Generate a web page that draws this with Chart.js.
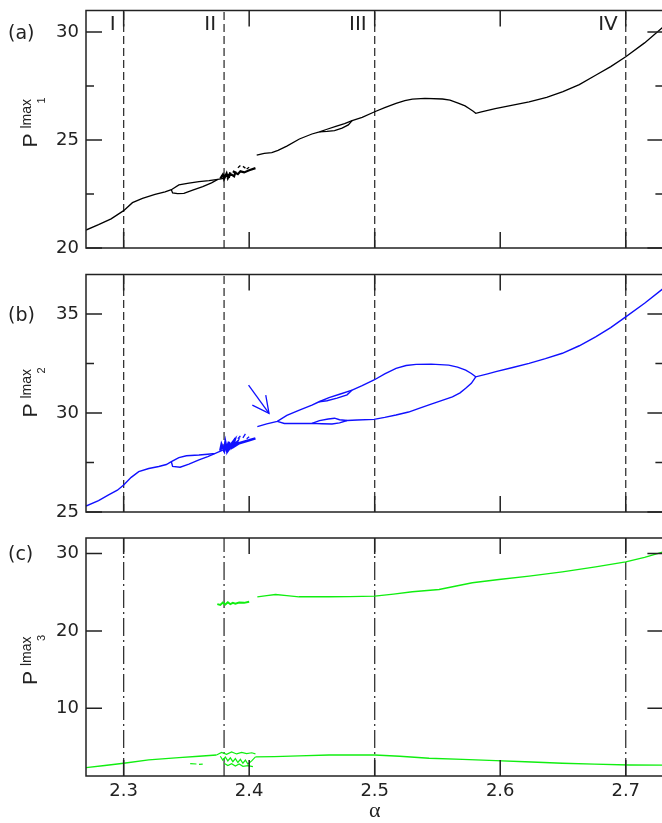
<!DOCTYPE html>
<html>

<head>
  <title>Bifurcation diagrams P lmax</title>
  <script src="https://cdn.jsdelivr.net/npm/chart.js@4.4.0/dist/chart.umd.min.js"></script>
  <style>
    html, body { margin: 0; padding: 0; background: #fff; overflow: hidden; }
    #wrap { position: relative; width: 662px; height: 823px; overflow: hidden; }
    canvas { position: absolute; left: 0; }
  </style>
</head>

<body>
  <div id="wrap">
    <canvas id="panelA" width="665" height="262" style="top:0px"></canvas>
    <canvas id="panelB" width="665" height="262" style="top:262px"></canvas>
    <canvas id="panelC" width="665" height="299" style="top:524px"></canvas>
  </div>

  <script>
    // shared alpha axis
    const alphaMin = 2.27;
    const alphaMax = 2.73;
    const xTicks = [2.3, 2.4, 2.5, 2.6, 2.7];
    const regimeAlpha = [2.3, 2.38, 2.5, 2.7];
    const regimeLabels = ['I', 'II', 'III', 'IV'];

    // y ticks per panel
    const yTicksA = [20, 25, 30], yMinorA = [22.5, 27.5];
    const yTicksB = [25, 30, 35], yMinorB = [27.5, 32.5];
    const yTicksC = [10, 20, 30], yMinorC = [];

    // (a) P1 lmax, [alpha, P]; null breaks the line
    const p1Low = [[2.270, 20.83], [2.280, 21.08], [2.290, 21.35], [2.300, 21.73], [2.307, 22.10], [2.315, 22.30],
      [2.325, 22.48], [2.333, 22.60], [2.338, 22.70], [2.344, 22.92], [2.352, 23.00], [2.360, 23.07],
      [2.368, 23.12], [2.375, 23.18], [2.380, 23.22]];
    const p1Loop = [[2.338, 22.70], [2.339, 22.55], [2.343, 22.52], [2.348, 22.53], [2.355, 22.68], [2.363, 22.84],
      [2.370, 23.02], [2.375, 23.18]];
    const p1Chaos = [[2.377, 23.22], [2.379, 23.40], [2.380, 23.20], [2.382, 23.45], [2.383, 23.24], [2.385, 23.50],
      [2.384, 23.30], [2.381, 23.36], [2.386, 23.40], [2.388, 23.32], [2.389, 23.50], [2.387, 23.55],
      [2.391, 23.42], [2.393, 23.55], [2.396, 23.50], [2.400, 23.60], [2.405, 23.70]];
    const p1Specks = [[2.391, 23.72], [2.393, 23.82], null, [2.395, 23.78], [2.397, 23.70], null,
      [2.398, 23.66], [2.400, 23.74]];
    const p1High = [[2.406, 24.30], [2.412, 24.38], [2.418, 24.42], [2.423, 24.52], [2.430, 24.72], [2.440, 25.05],
      [2.450, 25.28], [2.456, 25.38], [2.462, 25.50], [2.469, 25.63], [2.476, 25.76], [2.482, 25.90],
      [2.490, 26.05], [2.500, 26.31], [2.508, 26.50], [2.517, 26.70], [2.524, 26.83], [2.530, 26.90],
      [2.540, 26.93], [2.554, 26.90], [2.560, 26.85], [2.567, 26.70], [2.572, 26.58], [2.5755, 26.45],
      [2.5785, 26.33], [2.5805, 26.24], [2.585, 26.30], [2.596, 26.45], [2.610, 26.62], [2.623, 26.77],
      [2.637, 26.98], [2.650, 27.24], [2.663, 27.57], [2.676, 28.00], [2.688, 28.40], [2.700, 28.86],
      [2.715, 29.50], [2.730, 30.25]];
    const p1Loop2 = [[2.456, 25.38], [2.462, 25.40], [2.468, 25.44], [2.474, 25.55], [2.479, 25.70], [2.482, 25.90]];

    // (b) P2 lmax
    const p2Low = [[2.270, 25.30], [2.280, 25.58], [2.288, 25.86], [2.295, 26.10], [2.300, 26.36], [2.306, 26.75],
      [2.312, 27.04], [2.320, 27.20], [2.328, 27.30], [2.334, 27.40], [2.338, 27.54], [2.344, 27.75],
      [2.350, 27.84], [2.360, 27.88], [2.367, 27.92], [2.373, 27.96], [2.379, 28.13]];
    const p2Loop = [[2.338, 27.54], [2.339, 27.30], [2.345, 27.26], [2.352, 27.42], [2.360, 27.63], [2.367, 27.80],
      [2.373, 27.96]];
    const p2Chaos = [[2.377, 28.10], [2.378, 28.40], [2.380, 28.12], [2.381, 28.50], [2.382, 28.18], [2.384, 28.55],
      [2.383, 28.20], [2.386, 28.45], [2.385, 28.28], [2.388, 28.55], [2.387, 28.32], [2.390, 28.50],
      [2.389, 28.36], [2.392, 28.48], [2.396, 28.55], [2.400, 28.62], [2.405, 28.72]];
    const p2Specks = [[2.391, 28.70], [2.393, 28.85], null, [2.395, 28.75], [2.397, 28.95], null,
      [2.398, 28.70], [2.400, 28.80]];
    const p2Upper = [[2.4065, 29.31], [2.414, 29.45], [2.4224, 29.58], [2.430, 29.88], [2.440, 30.15], [2.450, 30.40],
      [2.4557, 30.57], [2.4636, 30.78], [2.472, 30.95], [2.482, 31.16], [2.490, 31.38], [2.4995, 31.67],
      [2.508, 31.98], [2.517, 32.26], [2.525, 32.40], [2.533, 32.46], [2.545, 32.47], [2.559, 32.42],
      [2.566, 32.32], [2.5725, 32.17], [2.577, 32.00], [2.5805, 31.83], [2.590, 31.98], [2.5965, 32.09],
      [2.610, 32.30], [2.623, 32.51], [2.636, 32.75], [2.6495, 33.02], [2.663, 33.40], [2.676, 33.85],
      [2.688, 34.32], [2.700, 34.86], [2.715, 35.55], [2.730, 36.30]];
    const p2UpperLoop = [[2.4557, 30.57], [2.462, 30.62], [2.470, 30.75], [2.478, 30.92], [2.482, 31.16]];
    const p2Lower = [[2.4224, 29.58], [2.428, 29.47], [2.440, 29.47], [2.450, 29.48], [2.458, 29.46], [2.466, 29.45],
      [2.472, 29.50], [2.478, 29.62], [2.486, 29.65], [2.4995, 29.68], [2.508, 29.78], [2.517, 29.90],
      [2.527, 30.05], [2.5353, 30.24], [2.545, 30.45], [2.5619, 30.82], [2.568, 31.02], [2.5725, 31.25],
      [2.577, 31.50], [2.5805, 31.83]];
    const p2LowerLoop = [[2.450, 29.48], [2.456, 29.62], [2.463, 29.70], [2.468, 29.74], [2.472, 29.66], [2.478, 29.62]];
    const arrowShaft = [[2.3995, 31.41], [2.4158, 29.98]];
    const arrowHead = [[2.4132, 30.91], [2.4158, 29.98], [2.4025, 30.40]];

    // (c) P3 lmax
    const p3UpperA = [[2.3746, 23.46], [2.377, 23.35], [2.379, 23.65], [2.381, 23.40], [2.383, 23.70], [2.385, 23.45],
      [2.387, 23.62], [2.389, 23.52], [2.392, 23.66], [2.396, 23.62], [2.400, 23.76]];
    const p3UpperB = [[2.4065, 24.40], [2.414, 24.55], [2.421, 24.70], [2.430, 24.55], [2.4397, 24.40], [2.450, 24.40],
      [2.4636, 24.40], [2.480, 24.42], [2.500, 24.49], [2.515, 24.75], [2.530, 25.05], [2.5513, 25.35],
      [2.565, 25.80], [2.5778, 26.21], [2.599, 26.64], [2.623, 27.07], [2.6495, 27.63], [2.676, 28.27],
      [2.700, 28.92], [2.715, 29.50], [2.730, 30.20]];
    const p3LowerA = [[2.270, 2.33], [2.285, 2.60], [2.300, 2.90], [2.320, 3.33], [2.344, 3.63], [2.360, 3.80],
      [2.374, 3.97]];
    const p3Chaos = [[2.374, 3.97], [2.378, 4.30], [2.382, 4.05], [2.386, 4.35], [2.390, 4.10], [2.394, 4.30],
      [2.398, 4.15], [2.402, 4.25], [2.405, 4.10], null,
      [2.377, 3.80], [2.379, 3.30], [2.381, 3.70], [2.383, 3.20], [2.385, 3.60], [2.387, 3.10], [2.389, 3.50],
      [2.391, 3.00], [2.393, 3.40], [2.395, 2.90], [2.397, 3.30], [2.399, 2.80], [2.402, 3.20], [2.405, 3.72]];
    const p3Chaos2 = [[2.380, 2.90], [2.383, 2.60], [2.386, 2.85], [2.389, 2.55], [2.392, 2.80], [2.395, 2.50],
      [2.399, 2.60], [2.403, 2.47], null,
      [2.353, 2.85], [2.358, 2.80], null, [2.360, 2.75], [2.363, 2.78]];
    const p3LowerB = [[2.405, 3.72], [2.420, 3.75], [2.4397, 3.85], [2.4636, 3.97], [2.480, 3.97], [2.500, 3.97],
      [2.520, 3.80], [2.5433, 3.55], [2.570, 3.40], [2.5965, 3.24], [2.620, 3.10], [2.6495, 2.90],
      [2.675, 2.78], [2.7027, 2.68], [2.730, 2.65]];

    const ink = '#222';
    const toPts = arr => arr.map(p => p ? { x: p[0], y: p[1] } : { x: null, y: null });

    function line(arr, color, width, extra) {
      return Object.assign({
        data: toPts(arr), showLine: true, borderColor: color, borderWidth: width || 1.3,
        pointRadius: 0, fill: false, tension: 0, spanGaps: false
      }, extra || {});
    }

    function regimeLines(yMin, yMax, dash) {
      return regimeAlpha.map(a => line([[a, yMin], [a, yMax]], '#333', 1.3, { borderDash: dash }));
    }

    // frame, inward ticks and the texts around each panel
    const framePlugin = {
      id: 'frame',
      afterDatasetsDraw(chart, args, opts) {
        const { ctx, chartArea: a, scales: { x, y } } = chart;
        ctx.save();
        ctx.strokeStyle = ink;
        ctx.lineWidth = 1.5;
        ctx.strokeRect(a.left, a.top, a.right - a.left, a.bottom - a.top);
        ctx.beginPath();
        xTicks.forEach(v => {
          const px = x.getPixelForValue(v);
          ctx.moveTo(px, a.bottom); ctx.lineTo(px, a.bottom - 16);
          ctx.moveTo(px, a.top); ctx.lineTo(px, a.top + 16);
        });
        opts.majors.forEach(v => {
          const py = y.getPixelForValue(v);
          ctx.moveTo(a.left, py); ctx.lineTo(a.left + 16, py);
          ctx.moveTo(a.right, py); ctx.lineTo(a.right - 16, py);
        });
        opts.minors.forEach(v => {
          const py = y.getPixelForValue(v);
          ctx.moveTo(a.left, py); ctx.lineTo(a.left + 8, py);
          ctx.moveTo(a.right, py); ctx.lineTo(a.right - 8, py);
        });
        ctx.stroke();

        ctx.fillStyle = ink;
        // panel tag, level with the top tick label
        ctx.font = '19px "DejaVu Sans"';
        ctx.textAlign = 'left';
        ctx.textBaseline = 'middle';
        ctx.fillText(opts.tag, 8, y.getPixelForValue(opts.majors[opts.majors.length - 1]) + 2);

        if (opts.romans) {
          ctx.font = '20px "DejaVu Sans"';
          ctx.textAlign = 'right';
          regimeAlpha.forEach((v, i) => {
            ctx.fillText(regimeLabels[i], x.getPixelForValue(v) - 8, a.top + 14);
          });
        }

        // y title P^lmax_n
        ctx.translate(37, a.top + opts.titleAt);
        ctx.rotate(-Math.PI / 2);
        ctx.textAlign = 'left';
        ctx.textBaseline = 'alphabetic';
        ctx.font = '21px "Liberation Sans"';
        ctx.fillText('P', 0, 0);
        ctx.font = '14px "Liberation Sans"';
        ctx.fillText('lmax', 19, -6);
        ctx.font = '11px "Liberation Sans"';
        ctx.fillText(opts.sub, 44, 8);
        ctx.restore();
      }
    };

    function makePanel(id, cfg) {
      return new Chart(document.getElementById(id), {
        type: 'scatter',
        data: { datasets: cfg.datasets },
        options: {
          responsive: false,
          animation: false,
          devicePixelRatio: 1,
          layout: { padding: cfg.padding },
          plugins: {
            legend: { display: false },
            tooltip: { enabled: false },
            frame: { majors: cfg.majors, minors: cfg.minors, tag: cfg.tag, sub: cfg.sub, romans: cfg.romans, titleAt: cfg.titleAt }
          },
          scales: {
            x: {
              type: 'linear',
              min: alphaMin,
              max: alphaMax,
              display: cfg.showX,
              afterBuildTicks: s => { s.ticks = xTicks.map(v => ({ value: v })); },
              ticks: { font: { family: 'DejaVu Sans', size: 18 }, color: ink, padding: 5, maxRotation: 0, callback: v => v.toFixed(1) },
              grid: { display: false, drawTicks: false },
              border: { display: false },
              title: { display: cfg.showX, text: 'α', color: ink, font: { family: 'Liberation Serif', size: 22, lineHeight: 1 }, padding: { top: 0, bottom: 1 } },
              afterFit: s => {
                s.height = cfg.showX ? 47 : 0;
                s.paddingLeft = 0; s.paddingRight = 0;
              }
            },
            y: {
              min: cfg.yMin,
              max: cfg.yMax,
              afterBuildTicks: s => { s.ticks = cfg.majors.map(v => ({ value: v })); },
              ticks: { font: { family: 'DejaVu Sans', size: 18 }, color: ink, padding: 7 },
              grid: { display: false, drawTicks: false },
              border: { display: false },
              afterFit: s => { s.width = 86; s.paddingTop = 0; s.paddingBottom = 0; }
            }
          }
        },
        plugins: [framePlugin]
      });
    }

    const black = '#000', blue = '#1010ff', green = '#10ee10';

    makePanel('panelA', {
      yMin: 20, yMax: 31, majors: yTicksA, minors: yMinorA, tag: '(a)', sub: '1', romans: true, titleAt: 137,
      showX: false, padding: { top: 10.5, bottom: 14, left: 0, right: 1.6 },
      datasets: [line(p1Low, black), line(p1Loop, black), line(p1Chaos, black, 2.2), line(p1Specks, black),
        line(p1High, black), line(p1Loop2, black)].concat(regimeLines(20, 31, [8, 4]))
    });

    makePanel('panelB', {
      yMin: 25, yMax: 37, majors: yTicksB, minors: yMinorB, tag: '(b)', sub: '2', romans: false, titleAt: 143,
      showX: false, padding: { top: 12.5, bottom: 12, left: 0, right: 1.6 },
      datasets: [line(p2Low, blue, 1.4), line(p2Loop, blue, 1.4), line(p2Chaos, blue, 2.6), line(p2Specks, blue),
        line(p2Upper, blue, 1.4), line(p2UpperLoop, blue, 1.4), line(p2Lower, blue, 1.4), line(p2LowerLoop, blue, 1.4),
        line(arrowShaft, blue), line(arrowHead, blue)].concat(regimeLines(25, 37, [8, 4]))
    });

    makePanel('panelC', {
      yMin: 1.25, yMax: 32, majors: yTicksC, minors: yMinorC, tag: '(c)', sub: '3', romans: false, titleAt: 147,
      showX: true, padding: { top: 14, bottom: 0, left: 0, right: 1.6 },
      datasets: [line(p3UpperA, green, 2), line(p3UpperB, green, 1.4), line(p3LowerA, green, 1.4),
        line(p3Chaos, green, 1.2), line(p3Chaos2, green, 1.2), line(p3LowerB, green, 1.4)]
        .concat(regimeLines(1.25, 32, [18, 4, 2, 4]))
    });
  </script>
</body>

</html>
